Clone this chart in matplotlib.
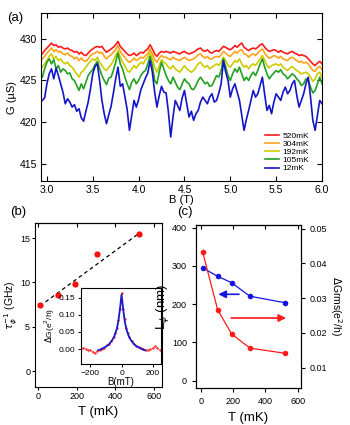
import numpy as np
import matplotlib.pyplot as plt

plt.rcParams['font.family'] = ['Liberation Sans', 'DejaVu Sans']
plt.rcParams['mathtext.fontset'] = 'dejavusans'

# ── panel (a): G(B) traces, B from 2.95 to 6.0 T in 0.025 T steps ─────────────
B_start, B_step = 2.95, 0.025

G_520 = [428.2, 428.6, 428.9, 429.2, 429.5, 429.2, 429.3, 429.0, 429.1, 428.9,
         428.8, 428.9, 428.7, 428.6, 428.4, 428.5, 428.2, 428.4, 428.1, 428.0,
         428.3, 428.6, 428.8, 429.0, 429.1, 429.0, 429.1, 428.7, 428.4, 428.6,
         428.8, 429.0, 429.3, 429.7, 429.1, 428.8, 428.5, 428.2, 428.0, 428.1,
         428.3, 428.0, 428.2, 428.4, 428.3, 428.6, 428.8, 429.3, 428.8, 428.2,
         427.9, 428.3, 428.5, 428.4, 428.5, 428.4, 428.3, 428.5, 428.4, 428.3,
         428.2, 428.4, 428.5, 428.3, 428.2, 428.3, 428.4, 428.6, 428.8, 428.9,
         428.6, 428.5, 428.7, 428.4, 428.3, 428.5, 428.6, 428.5, 428.8, 429.1,
         429.0, 428.8, 428.7, 428.9, 429.2, 429.0, 429.3, 429.5, 429.0, 428.8,
         428.6, 428.8, 428.9, 428.8, 429.0, 429.3, 429.4, 429.0, 428.7, 428.5,
         428.6, 428.7, 428.6, 428.4, 428.6, 428.4, 428.3, 428.2, 428.4, 428.5,
         428.3, 428.2, 428.0, 428.1, 428.0, 427.9, 427.6, 427.3, 427.0, 426.8,
         427.1, 427.3, 427.0]
G_304 = [427.6, 427.9, 428.3, 428.6, 428.9, 428.5, 428.7, 428.4, 428.5, 428.2,
         428.1, 428.3, 428.0, 427.9, 427.6, 427.8, 427.4, 427.7, 427.4, 427.3,
         427.6, 428.0, 428.2, 428.3, 428.5, 428.3, 428.4, 427.9, 427.6, 427.9,
         428.1, 428.4, 428.7, 429.2, 428.5, 428.1, 427.8, 427.4, 427.2, 427.4,
         427.7, 427.4, 427.6, 427.8, 427.7, 428.0, 428.2, 428.8, 428.2, 427.5,
         427.2, 427.7, 428.0, 427.8, 427.8, 427.6, 427.5, 427.8, 427.6, 427.5,
         427.4, 427.6, 427.8, 427.6, 427.4, 427.5, 427.6, 427.8, 428.1, 428.2,
         427.9, 427.7, 427.9, 427.6, 427.6, 427.8, 427.9, 427.8, 428.1, 428.5,
         428.3, 428.0, 427.9, 428.2, 428.5, 428.3, 428.6, 428.7, 428.2, 428.1,
         427.8, 428.1, 428.2, 428.0, 428.3, 428.6, 428.8, 428.3, 427.9, 427.7,
         427.8, 428.0, 427.9, 427.7, 427.9, 427.6, 427.5, 427.4, 427.7, 427.8,
         427.6, 427.4, 427.2, 427.3, 427.1, 427.2, 427.0, 426.6, 426.2, 426.1,
         426.5, 426.7, 426.3]
G_192 = [426.6, 427.0, 427.4, 427.9, 428.2, 427.6, 427.9, 427.4, 427.6, 427.2,
         427.0, 427.2, 426.8, 426.6, 426.2, 425.8, 425.4, 426.0, 426.2, 426.6,
         427.0, 427.3, 427.6, 427.4, 427.8, 427.2, 426.8, 426.4, 426.2, 426.6,
         426.9, 427.4, 428.0, 428.6, 427.8, 427.2, 426.8, 426.2, 426.0, 426.4,
         426.8, 426.5, 426.9, 427.2, 427.0, 427.5, 427.8, 428.4, 427.6, 426.6,
         426.0, 426.8, 427.5, 427.2, 427.0, 426.6, 426.4, 426.8, 426.4, 426.2,
         426.0, 426.4, 426.8, 426.4, 426.2, 426.0, 426.2, 426.6, 427.0, 427.2,
         426.8, 426.6, 426.8, 426.4, 426.6, 426.8, 427.0, 426.8, 427.2, 427.8,
         427.4, 426.8, 426.6, 427.0, 427.4, 427.2, 427.6, 427.0, 426.6, 426.8,
         426.4, 426.8, 427.0, 426.8, 427.2, 427.6, 428.0, 427.4, 426.8, 426.5,
         426.8, 426.9, 427.0, 426.8, 427.0, 426.6, 426.4, 426.2, 426.5, 426.7,
         426.4, 426.2, 426.0, 425.8, 425.9, 426.0, 425.8, 425.4, 424.9, 425.2,
         425.8, 426.0, 425.4]
G_105 = [425.4, 426.4, 427.2, 427.6, 427.0, 427.5, 426.4, 426.8, 426.0, 426.4,
         426.2, 425.8, 425.9, 425.2, 425.0, 424.4, 423.8, 424.6, 424.0, 424.8,
         425.6, 426.0, 426.3, 426.9, 427.3, 426.4, 425.6, 425.0, 424.5, 425.3,
         425.4, 426.2, 427.2, 428.3, 427.0, 426.4, 425.4, 424.6, 423.9, 424.8,
         425.2, 424.6, 425.0, 425.6, 426.0, 426.2, 427.0, 427.9, 426.8, 425.0,
         424.6, 426.0, 427.2, 426.4, 425.6, 425.0, 424.6, 425.4, 424.8, 424.2,
         423.9, 424.6, 425.2, 424.8, 424.6, 424.0, 423.9, 424.4, 425.0, 425.4,
         425.0, 424.6, 424.8, 424.3, 424.4, 425.0, 425.6, 425.4, 426.2, 427.6,
         426.6, 425.6, 425.0, 425.8, 426.4, 426.0, 426.6, 425.8, 425.0, 425.4,
         425.0, 425.6, 426.0, 425.6, 426.2, 427.0, 427.6, 426.6, 425.8, 425.2,
         425.6, 425.9, 426.2, 426.0, 426.3, 425.8, 425.6, 425.2, 425.5, 425.8,
         425.6, 425.2, 424.9, 424.4, 424.6, 425.2, 425.0, 424.2, 423.5, 423.8,
         424.6, 425.4, 424.6]
G_12 = [422.6, 422.9, 424.6, 425.8, 426.4, 425.2, 426.5, 425.6, 424.6, 423.6,
        422.2, 422.8, 422.4, 421.8, 422.1, 421.3, 421.6, 420.5, 420.1, 421.3,
        422.4, 424.0, 425.8, 426.7, 427.0, 425.0, 422.6, 421.0, 419.8, 420.9,
        421.9, 423.5, 425.2, 426.6, 424.3, 424.6, 423.1, 421.5, 419.0, 420.8,
        422.6, 421.8, 422.7, 423.9, 424.6, 425.3, 425.9, 427.4, 426.0, 423.6,
        421.8, 423.2, 424.3, 423.6, 423.5, 421.2, 418.2, 420.6, 422.6, 422.0,
        421.4, 422.9, 423.8, 422.2, 420.6, 421.3, 420.2, 421.0, 421.4, 422.4,
        423.0, 422.6, 422.2, 423.0, 423.4, 422.4, 422.6, 423.5, 424.6, 427.4,
        426.0, 425.0, 423.0, 424.0, 424.6, 423.6, 422.6, 420.8, 419.0, 420.3,
        421.4, 422.6, 423.8, 423.0, 423.4, 424.4, 425.4, 423.3, 421.4, 422.0,
        421.0, 422.4, 423.4, 423.0, 422.6, 423.6, 424.2, 423.4, 423.8, 424.6,
        425.0, 423.2, 421.8, 422.6, 423.4, 424.6, 425.4, 423.0, 420.2, 419.0,
        420.8, 422.6, 422.2]

trace_labels = ["520mK", "304mK", "192mK", "105mK", "12mK"]
trace_colors = ["#ff1a1a", "#ffa31a", "#cccc00", "#22a022", "#1414c8"]

# ── panel (b): dephasing rate vs T, plus inset WL peak ────────────────────────
T_b = [12, 105, 192, 304, 520]
tau_inv = [7.4, 8.6, 9.85, 13.15, 15.45]
fit_T = [40, 520]
fit_tau = [7.8, 15.5]

B_in = [-260, -245, -230, -215, -200, -185, -170, -155, -140, -125, -110, -95,
        -80, -65, -50, -40, -30, -20, -10, 0, 10, 20, 30, 40, 50, 65, 80, 95,
        110, 125, 140, 155, 170, 185, 200, 215, 230, 245]
dG_in = [0.000, 0.004, 0.001, -0.004, -0.002, -0.008, -0.011, -0.006, -0.003,
         0.000, 0.004, 0.011, 0.014, 0.022, 0.034, 0.046, 0.062, 0.085, 0.118,
         0.165, 0.118, 0.087, 0.063, 0.046, 0.034, 0.022, 0.014, 0.010, 0.006,
         0.002, 0.000, -0.002, -0.004, -0.001, 0.002, 0.009, 0.003, -0.003]
B_fit = [-150, -125, -100, -80, -60, -45, -30, -20, -10, 0, 10, 20, 30, 45,
         60, 80, 100, 125, 150]
dG_fit = [-0.004, 0.001, 0.007, 0.014, 0.026, 0.039, 0.060, 0.083, 0.118, 0.160,
          0.118, 0.083, 0.060, 0.039, 0.026, 0.014, 0.007, 0.001, -0.004]

# ── panel (c): L_phi and dG_rms vs T ──────────────────────────────────────────
T_c = [12, 105, 192, 304, 520]
L_phi = [295, 273, 256, 221, 204]
dG_rms = [0.0433, 0.0266, 0.0196, 0.0156, 0.0141]

fig = plt.figure(figsize=(3.5, 4.25), dpi=100)

# --- panel (a) ---
ax = fig.add_axes([0.117, 0.574, 0.803, 0.395])
B = B_start + B_step * np.arange(len(G_12))
for g, lab, col in zip([G_520, G_304, G_192, G_105, G_12], trace_labels, trace_colors):
    ax.plot(B, g, color=col, lw=1.2, label=lab)
ax.set_xlim(2.935, 6.0)
ax.set_ylim(412.9, 433.1)
ax.set_xticks(np.arange(3.0, 6.01, 0.5))
ax.set_yticks([415, 420, 425, 430])
ax.tick_params(direction="in", top=True, right=True, length=3.5, width=0.8, labelsize=7.5, pad=3)
ax.set_xlabel("B (T)", fontsize=8, labelpad=0)
ax.set_ylabel("G (µS)", fontsize=8, labelpad=2)
ax.legend(loc="upper left", bbox_to_anchor=(0.745, 0.70), bbox_transform=fig.transFigure,
          frameon=False, fontsize=6, handlelength=1.7, handletextpad=0.4,
          labelspacing=0.05, borderpad=0)
fig.text(0.02, 0.972, "(a)", fontsize=9.5, va="top")

# --- panel (b) ---
axb = fig.add_axes([0.1, 0.0894, 0.363, 0.386])
axb.plot(fit_T, fit_tau, color="black", ls=(0, (3, 2.5)), lw=0.9)
axb.plot(T_b, tau_inv, "o", color="#ff1010", ms=4.5, mec="none")
axb.set_xlim(-14, 640)
axb.set_ylim(-1.8, 16.7)
axb.set_xticks([0, 200, 400, 600])
axb.set_yticks([0, 5, 10, 15])
axb.tick_params(direction="out", length=2.5, width=0.8, labelsize=6.5, pad=1)
sb = axb.secondary_xaxis("top")
sb.set_xticks([0, 200, 400, 600])
sb.tick_params(direction="in", length=3, labeltop=False)
axb.set_xlabel("T (mK)", fontsize=9.5, labelpad=4)
axb.set_ylabel(r"$\tau_\phi^{-1}$ (GHz)", fontsize=7.5)
axb.yaxis.set_label_coords(-0.118, 0.5)
fig.text(0.03, 0.5, "(b)", fontsize=9.5, va="center")

# inset
axi = fig.add_axes([0.2306, 0.1435, 0.228, 0.179])
axi.plot(B_in, dG_in, color="#ff3030", lw=0.6, marker=".", ms=1.5, ls=(0, (2, 1)))
axi.plot(B_fit, dG_fit, color="#1a1ad0", lw=1.3)
axi.set_xlim(-262, 250)
axi.set_ylim(-0.044, 0.179)
axi.set_xticks([-200, 0, 200])
axi.set_yticks([0.0, 0.05, 0.10, 0.15])
axi.set_yticklabels(["0.00", "0.05", "0.10", "0.15"])
axi.tick_params(direction="out", length=2.5, width=0.7, labelsize=6, pad=1.5)
axi.set_xlabel("B(mT)", fontsize=7, labelpad=0)
axi.set_ylabel(r"$\Delta$G(e$^2$/h)", fontsize=6, labelpad=1)

# --- panel (c) ---
axc = fig.add_axes([0.56, 0.087, 0.3, 0.3835])
axc.plot(T_c, L_phi, "o-", color="#1414e0", ms=4, lw=0.9, mec="none")
axc.set_xlim(-29, 620)
axc.set_ylim(-19, 407)
axc.set_xticks([0, 200, 400, 600])
axc.set_yticks([0, 100, 200, 300, 400])
axc.tick_params(direction="out", length=3, width=0.8, labelsize=6.5)
sc = axc.secondary_xaxis("top")
sc.set_xticks([0, 200, 400, 600])
sc.tick_params(direction="in", length=3, labeltop=False)
axc.set_xlabel("T (mK)", fontsize=9.5, labelpad=4)
axc.set_ylabel(r"L$_\phi$ (nm)", fontsize=9.5, labelpad=1)

axr = axc.twinx()
axr.plot(T_c, dG_rms, "o-", color="#ff1a1a", ms=4, lw=0.9, mec="none")
axr.set_ylim(0.0041, 0.051)
axr.set_yticks([0.01, 0.02, 0.03, 0.04, 0.05])
axr.tick_params(direction="out", length=3, width=0.8, labelsize=6.5)
axr.set_ylabel(r"$\Delta$Grms(e$^2$/h)", fontsize=7.5, rotation=270, labelpad=12)

# arrows pointing to each axis
blue_arrow = [(254, 226), (92, 226)]
red_arrow = [(171, 164), (545, 164)]
axc.annotate("", xy=blue_arrow[1], xytext=blue_arrow[0],
             arrowprops=dict(arrowstyle="-|>", color="#1414e0", lw=1.2, mutation_scale=11))
axc.annotate("", xy=red_arrow[1], xytext=red_arrow[0],
             arrowprops=dict(arrowstyle="-|>", color="#ff1a1a", lw=1.2, mutation_scale=11))
fig.text(0.505, 0.5, "(c)", fontsize=9.5, va="center")

plt.savefig("out.png", dpi=100)
